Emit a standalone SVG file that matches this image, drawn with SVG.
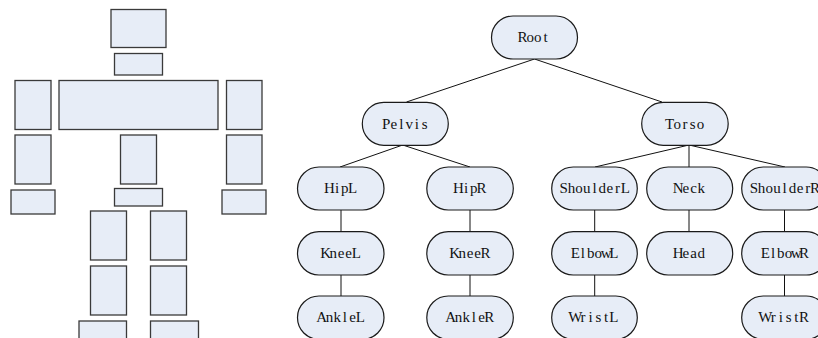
<svg xmlns="http://www.w3.org/2000/svg" width="818" height="338" viewBox="0 0 818 338">
<style>
.body{fill:#e7edf7;stroke:#3a3a3a;stroke-width:1.3}
.node rect{fill:#e7edf7;stroke:#1a1a1a;stroke-width:1.2}
.node text{font-family:"Liberation Serif",serif;font-size:15px;fill:#111;text-anchor:middle}
.edges line{stroke:#111;stroke-width:1}
</style>
<rect width="818" height="338" fill="#fff"/>
<g id="figure">
<rect class="body" x="111" y="9.5" width="55" height="38"/>
<rect class="body" x="114.5" y="53.5" width="48" height="21.5"/>
<rect class="body" x="15" y="80.5" width="36" height="49"/>
<rect class="body" x="59" y="80.5" width="159" height="49"/>
<rect class="body" x="226.5" y="80.5" width="35.5" height="49"/>
<rect class="body" x="15" y="135" width="36" height="49"/>
<rect class="body" x="120.5" y="135" width="36" height="49"/>
<rect class="body" x="226.5" y="135" width="35.5" height="49"/>
<rect class="body" x="11" y="190" width="44" height="24"/>
<rect class="body" x="114.5" y="188.5" width="48" height="17.5"/>
<rect class="body" x="222" y="190" width="44" height="24"/>
<rect class="body" x="90.5" y="211" width="36" height="49"/>
<rect class="body" x="150.5" y="211" width="36" height="49"/>
<rect class="body" x="90.5" y="266" width="36" height="49"/>
<rect class="body" x="150.5" y="266" width="36" height="49"/>
<rect class="body" x="79" y="321" width="47.5" height="30"/>
<rect class="body" x="150.5" y="321" width="48" height="30"/>
</g>
<g id="connectors" class="edges">
<line x1="534.5" y1="59" x2="406.5" y2="102"/>
<line x1="534.5" y1="59" x2="662" y2="102"/>
<line x1="402.7" y1="145" x2="340" y2="167"/>
<line x1="402.7" y1="145" x2="470" y2="167"/>
<line x1="689" y1="145" x2="595" y2="167"/>
<line x1="689" y1="145" x2="689" y2="167"/>
<line x1="689" y1="145" x2="785" y2="167"/>
<line x1="341" y1="210" x2="341" y2="232"/>
<line x1="341" y1="275" x2="341" y2="296"/>
<line x1="470" y1="210" x2="470" y2="232"/>
<line x1="470" y1="275" x2="470" y2="296"/>
<line x1="594.7" y1="210" x2="594.7" y2="232"/>
<line x1="594.7" y1="275" x2="594.7" y2="296"/>
<line x1="689" y1="210" x2="689" y2="232"/>
<line x1="784.5" y1="210" x2="784.5" y2="232"/>
<line x1="784.5" y1="275" x2="784.5" y2="296"/>
</g>
<g id="Root" class="node"><rect x="491.5" y="16" width="86" height="43" rx="21.5"/><text x="522.45 530.15 537.85 545.55" y="42">Root</text></g>
<g id="Pelvis" class="node"><rect x="362.3" y="102.3" width="86" height="43" rx="21.5"/><text x="386.05 393.75 401.45 409.15 416.85 424.55" y="128.5">Pelvis</text></g>
<g id="Torso" class="node"><rect x="641.7" y="102.3" width="86.5" height="43" rx="21.5"/><text x="669.6 677.3 685 692.7 700.4" y="128.5">Torso</text></g>
<g id="HipL" class="node"><rect x="297.5" y="167" width="86.5" height="43" rx="21.5"/><text x="329.45 337.15 344.85 352.55" y="193">HipL</text></g>
<g id="HipR" class="node"><rect x="426.8" y="167" width="86.5" height="43" rx="21.5"/><text x="458.45 466.15 473.85 481.55" y="193">HipR</text></g>
<g id="ShoulderL" class="node"><rect x="551.7" y="167" width="85.6" height="43" rx="21.5"/><text x="563.7 571.4 579.1 586.8 594.5 602.2 609.9 617.6 625.3" y="193">ShoulderL</text></g>
<g id="Neck" class="node"><rect x="646.7" y="167" width="86" height="43" rx="21.5"/><text x="678.15 685.85 693.55 701.25" y="193">Neck</text></g>
<g id="ShoulderR" class="node"><rect x="741.7" y="167" width="86" height="43" rx="21.5"/><text x="753.9 761.6 769.3 777 784.7 792.4 800.1 807.8 815" y="193">ShoulderR</text></g>
<g id="KneeL" class="node"><rect x="297.5" y="231.7" width="86.5" height="43.3" rx="21.5"/><text x="325.6 333.3 341 348.7 356.4" y="258">KneeL</text></g>
<g id="KneeR" class="node"><rect x="426.8" y="231.7" width="86.5" height="43.3" rx="21.5"/><text x="454.6 462.3 470 477.7 485.4" y="258">KneeR</text></g>
<g id="ElbowL" class="node"><rect x="551.7" y="231.7" width="85.6" height="43.3" rx="21.5"/><text x="575.25 582.95 590.65 598.35 606.05 613.75" y="258">ElbowL</text></g>
<g id="Head" class="node"><rect x="646.7" y="231.7" width="86" height="43.3" rx="21.5"/><text x="678.15 685.85 693.55 701.25" y="258">Head</text></g>
<g id="ElbowR" class="node"><rect x="741.7" y="231.7" width="86" height="43.3" rx="21.5"/><text x="765.45 773.15 780.85 788.55 796.25 803.95" y="258">ElbowR</text></g>
<g id="AnkleL" class="node"><rect x="297.5" y="296" width="86.5" height="43.3" rx="21.5"/><text x="321.75 329.45 337.15 344.85 352.55 360.25" y="322">AnkleL</text></g>
<g id="AnkleR" class="node"><rect x="426.8" y="296" width="86.5" height="43.3" rx="21.5"/><text x="450.75 458.45 466.15 473.85 481.55 489.25" y="322">AnkleR</text></g>
<g id="WristL" class="node"><rect x="551.7" y="296" width="85.6" height="43.3" rx="21.5"/><text x="575.25 582.95 590.65 598.35 606.05 613.75" y="322">WristL</text></g>
<g id="WristR" class="node"><rect x="741.7" y="296" width="86" height="43.3" rx="21.5"/><text x="765.45 773.15 780.85 788.55 796.25 803.95" y="322">WristR</text></g>
</svg>
